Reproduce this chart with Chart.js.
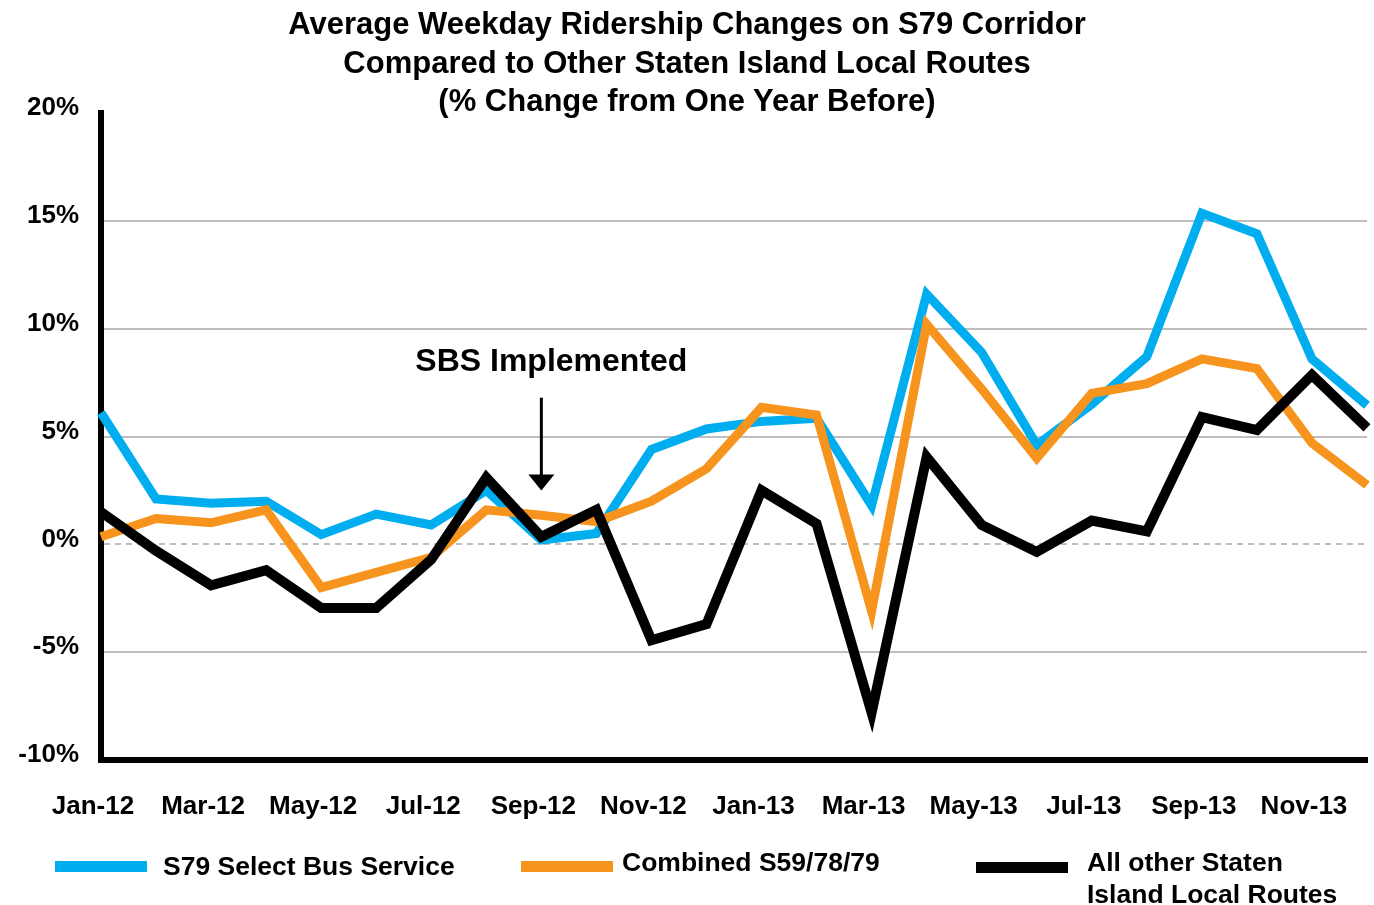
<!DOCTYPE html>
<html>
<head>
<meta charset="utf-8">
<script src="https://cdn.jsdelivr.net/npm/chart.js@4.4.0/dist/chart.umd.min.js"></script>
<style>
body { margin: 0; background: #fff; font-family: 'Liberation Sans', Arial, sans-serif; }
#marco { position: relative; width: 1374px; height: 905px; }
#titulo { position: absolute; left: 0; top: 5px; width: 1374px; text-align: center; font-weight: bold; font-size: 31px; line-height: 38.5px; color: #000; }
.muestra { position: absolute; height: 11px; width: 92px; }
.texto { position: absolute; font-weight: bold; font-size: 26.5px; line-height: 32px; color: #000; white-space: nowrap; }
</style>
</head>
<body>
<div id="marco">
  <canvas id="grafico" width="1374" height="905"></canvas>
  <div id="titulo">Average Weekday Ridership Changes on S79 Corridor<br>Compared to Other Staten Island Local Routes<br>(% Change from One Year Before)</div>
  <div id="leyenda"></div>
</div>
<script>
var meses = ['Jan-12', 'Feb-12', 'Mar-12', 'Apr-12', 'May-12', 'Jun-12', 'Jul-12', 'Aug-12', 'Sep-12', 'Oct-12', 'Nov-12', 'Dec-12',
             'Jan-13', 'Feb-13', 'Mar-13', 'Apr-13', 'May-13', 'Jun-13', 'Jul-13', 'Aug-13', 'Sep-13', 'Oct-13', 'Nov-13', 'Dec-13'];
var s79 = [6.1, 2.1, 1.9, 2.0, 0.45, 1.4, 0.9, 2.5, 0.2, 0.5, 4.4, 5.35,
           5.7, 5.85, 1.8, 11.6, 8.9, 4.6, 6.5, 8.7, 15.35, 14.4, 8.6, 6.45];
var combinado = [0.35, 1.2, 1.0, 1.6, -2.0, -1.3, -0.6, 1.6, 1.35, 1.05, 2.0, 3.5,
                 6.35, 6.0, -3.1, 10.2, 7.2, 4.0, 7.0, 7.45, 8.6, 8.15, 4.7, 2.75];
var otras = [1.5, -0.3, -1.9, -1.2, -2.95, -2.95, -0.7, 3.1, 0.35, 1.6, -4.45, -3.7,
             2.5, 0.95, -7.8, 4.05, 0.9, -0.35, 1.1, 0.6, 5.9, 5.3, 7.85, 5.4];
var nombres = ['S79 Select Bus Service', 'Combined S59/78/79', 'All other Staten\nIsland Local Routes'];
var colores = ['#00AEEF', '#F7941D', '#000000'];
var textoAnotacion = 'SBS Implemented';
var mesAnotacion = 'Sep-12';

var fuente = "'Liberation Sans', Arial, sans-serif";

// flecha y texto de "SBS Implemented"
var anotacion = {
    id: 'anotacion',
    afterDatasetsDraw: function(chart) {
        var ctx = chart.ctx;
        var x = chart.scales.x.getPixelForValue(meses.indexOf(mesAnotacion));
        var y = chart.scales.y;
        var arriba = y.getPixelForValue(6.8);
        var punta = y.getPixelForValue(2.5);
        ctx.save();
        ctx.fillStyle = '#000';
        ctx.strokeStyle = '#000';
        ctx.font = 'bold 32px ' + fuente;
        ctx.textAlign = 'center';
        ctx.textBaseline = 'middle';
        ctx.fillText(textoAnotacion, x + 10, y.getPixelForValue(8.45));
        ctx.lineWidth = 3;
        ctx.beginPath();
        ctx.moveTo(x, arriba);
        ctx.lineTo(x, punta - 12);
        ctx.stroke();
        ctx.beginPath();
        ctx.moveTo(x - 13, punta - 16);
        ctx.lineTo(x + 13, punta - 16);
        ctx.lineTo(x, punta);
        ctx.closePath();
        ctx.fill();
        ctx.restore();
    }
};

var series = [s79, combinado, otras];
var datasets = [];
for (var i = 0; i < series.length; i++) {
    datasets.push({
        label: nombres[i],
        data: series[i],
        borderColor: colores[i],
        backgroundColor: colores[i],
        borderWidth: i == 2 ? 10 : 9,
        pointRadius: 0,
        tension: 0,
        fill: false,
        borderJoinStyle: 'miter',
        order: 2 - i
    });
}

var chart = new Chart(document.getElementById('grafico').getContext('2d'), {
    type: 'line',
    data: { labels: meses, datasets: datasets },
    options: {
        responsive: false,
        animation: false,
        layout: { padding: { top: 113, right: 7, bottom: 0, left: 0 } },
        plugins: { legend: { display: false }, title: { display: false }, tooltip: { enabled: false } },
        scales: {
            x: {
                offset: false,
                grid: { display: false, drawTicks: false },
                border: { display: true, color: '#000', width: 6 },
                ticks: {
                    autoSkip: false,
                    maxRotation: 0,
                    padding: 31,
                    labelOffset: -8,
                    color: '#000',
                    font: { family: fuente, size: 26, weight: 'bold' },
                    callback: function(v, i) { return i % 2 === 0 ? this.getLabelForValue(v) : ''; }
                },
                afterFit: function(scale) {
                    scale.height = 145;
                    scale.paddingLeft = 0;
                    scale.paddingRight = 0;
                }
            },
            y: {
                min: -10,
                max: 20,
                grid: {
                    drawTicks: false,
                    lineWidth: 2,
                    color: function(c) {
                        if (!c.tick) return '#BEBEBE';
                        if (c.tick.value == 20 || c.tick.value == -10) return 'rgba(0,0,0,0)';
                        return '#BEBEBE';
                    }
                },
                border: {
                    display: true, color: '#000', width: 6,
                    dash: function(c) { return (c.tick && c.tick.value === 0) ? [6, 5] : []; }
                },
                ticks: {
                    stepSize: 5,
                    padding: 22,
                    labelOffset: -5,
                    color: '#000',
                    font: { family: fuente, size: 26, weight: 'bold' },
                    callback: function(v) { return v + '%'; }
                },
                afterFit: function(scale) { scale.width = 101; }
            }
        }
    },
    plugins: [anotacion]
});

// leyenda en HTML
var posLeyenda = [[55, 163, 861], [521, 622, 861], [976, 1087, 862]];
var leyenda = document.getElementById('leyenda');
for (var k = 0; k < nombres.length; k++) {
    var m = document.createElement('div');
    m.className = 'muestra';
    m.style.left = posLeyenda[k][0] + 'px';
    m.style.top = posLeyenda[k][2] + 'px';
    m.style.background = colores[k];
    leyenda.appendChild(m);
    var t = document.createElement('div');
    t.className = 'texto';
    t.style.left = posLeyenda[k][1] + 'px';
    t.style.top = (k == 0 ? 850 : 846) + 'px';
    t.innerHTML = nombres[k].replace('\n', '<br>');
    leyenda.appendChild(t);
}
</script>
</body>
</html>
